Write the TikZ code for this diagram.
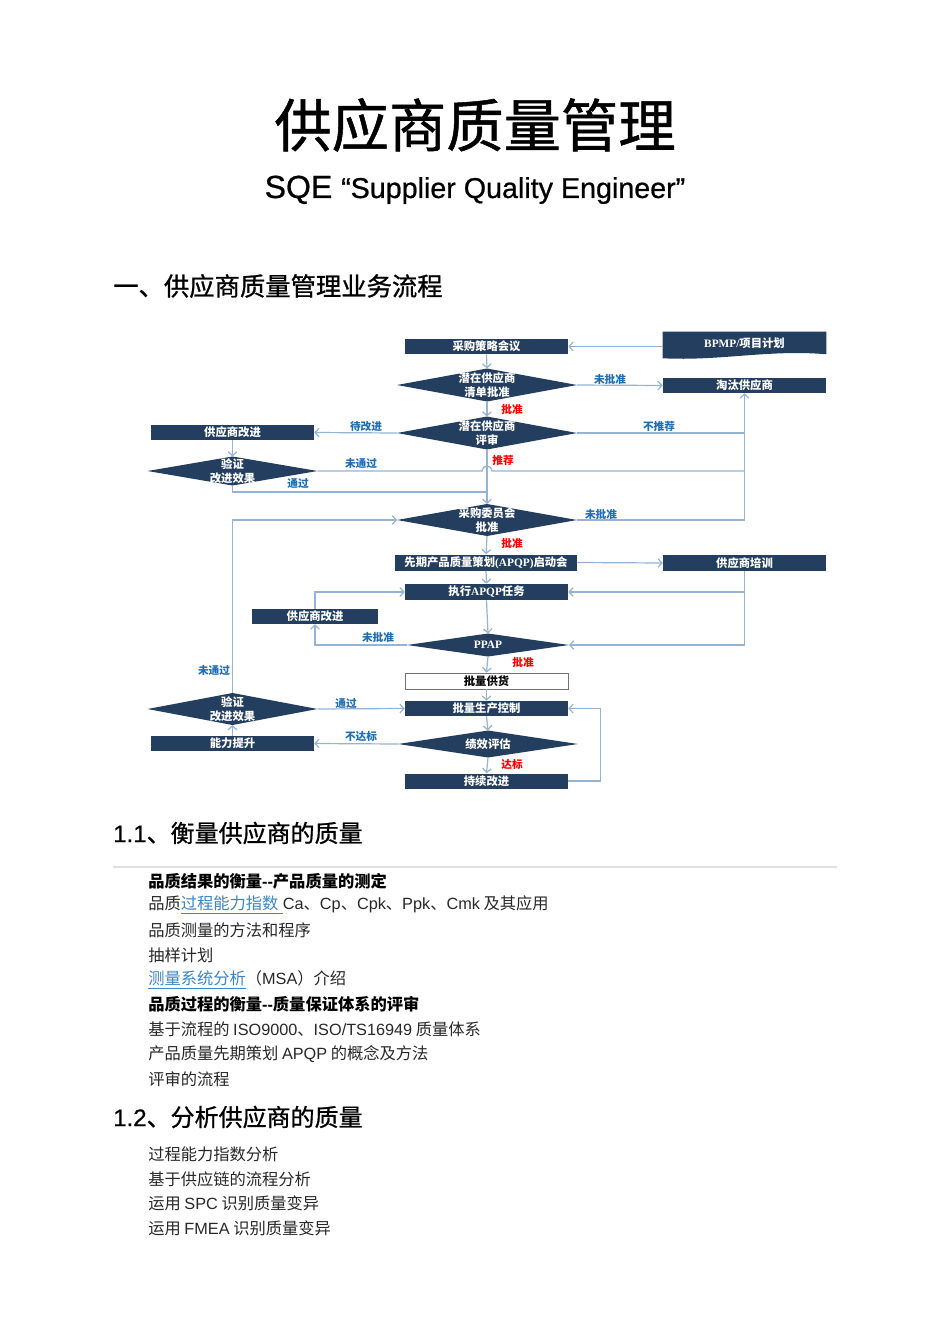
\documentclass[tikz,border=0pt]{standalone}
\usepackage{fontspec}
\setmainfont{Noto Sans CJK SC}
\newfontfamily\ar{Liberation Sans}
\newfontfamily\arh[FakeBold=0.7]{Liberation Sans}
\newfontfamily\cjkh[FakeBold=0.9]{Noto Sans CJK SC}
\newfontfamily\tm{Liberation Serif}
\usetikzlibrary{shapes.geometric,arrows.meta,calc}
\definecolor{navy}{RGB}{36,62,96}
\definecolor{linec}{RGB}{149,179,215}
\definecolor{lblue}{RGB}{31,110,180}
\definecolor{linkblue}{RGB}{61,133,198}
\definecolor{bodyc}{RGB}{40,40,40}
\tikzset{
  boxn/.style={fill=navy, draw=none, text=white, inner sep=0pt,
    font=\bfseries\fontsize{8.5}{10}\selectfont,
    minimum width=163*0.75pt, minimum height=15*0.75pt},
  dia/.style={diamond, fill=navy, draw=none, inner sep=0pt, outer sep=0pt},
  dtxt/.style={text=white, align=center, inner sep=0pt,
    font=\bfseries\fontsize{8.5}{10.5}\selectfont},
  conn/.style={draw=linec, line width=0.9pt},
  arr/.style={conn, -{Straight Barb[length=3pt,width=6.5pt]}},
  lab/.style={text=lblue, inner sep=0pt, font=\bfseries\fontsize{8}{8}\selectfont},
  labr/.style={text=red, inner sep=0pt, font=\bfseries\fontsize{8}{8}\selectfont},
  body/.style={anchor=west, inner sep=0pt, text=bodyc, font=\fontsize{12.2}{12.2}\selectfont},
  bodyb/.style={anchor=west, inner sep=0pt, text=black, font=\bfseries\fontsize{12.2}{12.2}\selectfont},
  head/.style={anchor=west, inner sep=0pt, text=black, font=\cjkh\fontsize{19}{19}\selectfont},
  headb/.style={anchor=west, inner sep=0pt, text=black, font=\cjkh\fontsize{18}{18}\selectfont},
}
\newcommand\lnk[1]{\textcolor{linkblue}{\underline{#1}}}
\begin{document}
\begin{tikzpicture}[x=0.75pt,y=-0.75pt]
\useasboundingbox (0,0) rectangle (950,1344);
\fill[white] (0,0) rectangle (950,1344);

% ---- titles
\node[inner sep=0pt, font=\cjkh\fontsize{43}{43}\selectfont] (title) at (475,125) {供应商质量管理};
\node[anchor=base, inner sep=0pt, font=\arh] (sqe) at (475,198)
  {\fontsize{24}{24}\selectfont SQE \fontsize{21.5}{21.5}\selectfont “Supplier Quality Engineer”};
\node[head] (h1) at (113,286) {一、供应商质量管理业务流程};

% ---- flowchart nodes
\node[boxn] (s1) at (486.5,346.5) {采购策略会议};
\node[inner sep=0pt, minimum width=163*0.75pt, minimum height=24*0.75pt] (bpmp) at (744.5,344) {};
\fill[navy] (bpmp.north west) -- (bpmp.north east) -- ($(bpmp.south east)+(0,-2)$)
  .. controls ($(bpmp.south)+(25,-7)$) and ($(bpmp.south)+(-25,5)$) .. ($(bpmp.south west)+(0,2)$) -- cycle;
\node[dtxt] (bpmpt) at (744.5,343) {{\tm\bfseries BPMP/}项目计划};

\node[dia, minimum width=180*0.75pt, minimum height=33*0.75pt] (d1) at (487,385) {};
\node[dtxt] (d1t) at (d1) {潜在供应商\\清单批准};
\node[boxn] (tt) at (744.5,385.5) {淘汰供应商};

\node[dia, minimum width=180*0.75pt, minimum height=33*0.75pt] (d2) at (487,433) {};
\node[dtxt] (d2t) at (d2) {潜在供应商\\评审};
\node[boxn] (imp1) at (232.5,432.5) {供应商改进};

\node[dia, minimum width=170*0.75pt, minimum height=29*0.75pt] (v1) at (232.5,471) {};
\node[dtxt] (v1t) at (v1) {验证\\改进效果};
\coordinate (j1) at (487,492);

\node[dia, minimum width=180*0.75pt, minimum height=32*0.75pt] (d3) at (487,520) {};
\node[dtxt] (d3t) at (d3) {采购委员会\\批准};

\node[boxn, minimum width=182*0.75pt, minimum height=16*0.75pt] (apqp) at (486,562.5) {先期产品质量策划{\tm\bfseries(APQP)}启动会};
\node[boxn, minimum height=16*0.75pt] (train) at (744.5,563) {供应商培训};
\node[boxn, minimum height=16*0.75pt] (exec) at (486.5,592) {执行{\tm\bfseries APQP}任务};
\node[boxn, minimum width=126*0.75pt] (imp2) at (315,616.5) {供应商改进};

\node[dia, minimum width=162*0.75pt, minimum height=23*0.75pt] (ppap) at (488,645) {};
\node[dtxt] (ppapt) at (ppap) {\tm\bfseries PPAP};

\node[boxn, fill=white, draw=black!55, line width=0.7pt, text=black, minimum height=16*0.75pt] (supply) at (486.5,681) {批量供货};
\node[boxn] (ctrl) at (486.5,708.5) {批量生产控制};
\node[dia, minimum width=180*0.75pt, minimum height=27*0.75pt] (d4) at (488,744) {};
\node[dtxt] (d4t) at (d4) {绩效评估};
\node[dia, minimum width=170*0.75pt, minimum height=32*0.75pt] (v2) at (232.5,709) {};
\node[dtxt] (v2t) at (v2) {验证\\改进效果};
\node[boxn] (cap) at (232.5,743.5) {能力提升};
\node[boxn] (cont) at (486.5,781) {持续改进};

% ---- connectors
\draw[arr] (bpmp.west |- s1) -- (s1.east);
\draw[arr] (s1.south) -- (d1.north);
\draw[arr] (d1.east) -- (tt.west);
\draw[arr] (d1.south) -- (d2.north);
\draw[arr] (d2.west) -- (imp1.east);
\draw[conn] (d2.east) -- (d2.east -| tt.south);
\draw[arr] (d3.east) -| (tt.south);
\draw[arr] (imp1.south) -- (v1.north);
\draw[conn] (v1.east) -- ($(v1.east -| d2.south)+(-5,0)$)
  arc[start angle=180, end angle=0, radius=3.75pt] -- (v1.east -| tt.south);
\draw[conn] (v1.south) |- (j1);
\draw[arr] (d2.south) -- (d3.north);
\draw[arr] (d3.south) -- (apqp.north);
\draw[arr] (apqp.east) -- (train.west);
\draw[arr] (apqp.south) -- (exec.north);
\draw[arr] (train.south) |- (exec.east);
\draw[arr] (train.south) |- (ppap.east);
\draw[arr] (exec.south) -- (ppap.north);
\draw[arr] (ppap.west) -| (imp2.south);
\draw[arr] (imp2.north) |- (exec.west);
\draw[arr] (ppap.south) -- (supply.north);
\draw[arr] (supply.south) -- (ctrl.north);
\draw[arr] (ctrl.south) -- (d4.north);
\draw[arr] (d4.west) -- (cap.east);
\draw[arr] (cap.north) -- (v2.south);
\draw[arr] (v2.east) -- (ctrl.west);
\draw[arr] (v2.north) |- (d3.west);
\draw[arr] (d4.south) -- (cont.north);
\draw[arr] (cont.east) -- ++(32,0) |- (ctrl.east);

% ---- connector labels
\node[lab] (la1) at (610,379) {未批准};
\node[labr] (la2) at (512,409) {批准};
\node[lab] (la3) at (366,426) {待改进};
\node[lab] (la4) at (659,426) {不推荐};
\node[labr] (la5) at (503,460) {推荐};
\node[lab] (la6) at (361,463) {未通过};
\node[lab] (la7) at (298,484) {通过};
\node[lab] (la8) at (601,514) {未批准};
\node[labr] (la9) at (512,543) {批准};
\node[lab] (la10) at (378,637) {未批准};
\node[labr] (la11) at (523,662) {批准};
\node[lab] (la12) at (214,670) {未通过};
\node[lab] (la13) at (346,703) {通过};
\node[lab] (la14) at (361,736) {不达标};
\node[labr] (la15) at (512,764) {达标};

% ---- section 1.1
\node[headb] (h11) at (113,833) {{\arh 1.1}、衡量供应商的质量};
\draw[black!12, line width=1.1pt] (113,867) -- (837,867);
\node[bodyb] (t1) at (148,881) {品质结果的衡量{\ar\bfseries -{}-}产品质量的测定};
\node[body] (t2) at (148,905) {品质\lnk{过程能力指数{\ar\ }}{\ar Ca}、{\ar Cp}、{\ar Cpk}、{\ar Ppk}、{\ar Cmk} 及其应用};
\node[body] (t3) at (148,930) {品质测量的方法和程序};
\node[body] (t4) at (148,955) {抽样计划};
\node[body] (t5) at (148,980) {\lnk{测量系统分析}（{\ar MSA}）介绍};
\node[bodyb] (t6) at (148,1004) {品质过程的衡量{\ar\bfseries -{}-}质量保证体系的评审};
\node[body] (t7) at (148,1029) {基于流程的 {\ar ISO9000}、{\ar ISO/TS16949} 质量体系};
\node[body] (t8) at (148,1054) {产品质量先期策划 {\ar APQP} 的概念及方法};
\node[body] (t9) at (148,1079) {评审的流程};

% ---- section 1.2
\node[headb] (h12) at (113,1117) {{\arh 1.2}、分析供应商的质量};
\node[body] (u1) at (148,1154) {过程能力指数分析};
\node[body] (u2) at (148,1179) {基于供应链的流程分析};
\node[body] (u3) at (148,1203) {运用 {\ar SPC} 识别质量变异};
\node[body] (u4) at (148,1228) {运用 {\ar FMEA} 识别质量变异};
\end{tikzpicture}
\end{document}
